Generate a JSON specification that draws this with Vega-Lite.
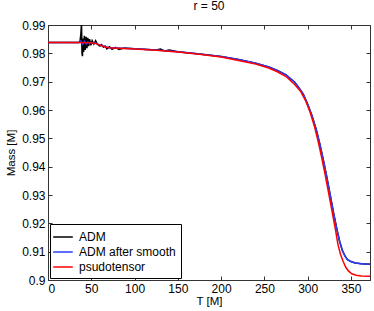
{
  "$schema": "https://vega.github.io/schema/vega-lite/v6.json",
  "width": 322,
  "height": 255,
  "autosize": {"type": "none"},
  "padding": {"left": 48, "top": 25, "right": 4, "bottom": 31},
  "background": "white",
  "config": {
    "font": "Liberation Sans",
    "view": {"stroke": "#333", "strokeWidth": 1},
    "axis": {"grid": false, "domainColor": "#333", "tickColor": "#333", "labelColor": "#000", "titleColor": "#000", "labelFontSize": 12, "titleFontSize": 11.5, "titleFontWeight": "normal", "labelFont": "Liberation Sans", "titleFont": "Liberation Sans"}
  },
  "title": {"text": "r = 50", "fontSize": 12, "fontWeight": "normal", "font": "Liberation Sans", "offset": 6, "color": "#000"},
  "data": {
    "values": [
      {"T": 0, "M": 0.9838, "s": "ADM"},
      {"T": 35, "M": 0.9838, "s": "ADM"},
      {"T": 37, "M": 0.9842, "s": "ADM"},
      {"T": 38, "M": 0.987, "s": "ADM"},
      {"T": 38.7, "M": 0.9905, "s": "ADM"},
      {"T": 39.3, "M": 0.98, "s": "ADM"},
      {"T": 39.8, "M": 0.979, "s": "ADM"},
      {"T": 40.5, "M": 0.9852, "s": "ADM"},
      {"T": 41.2, "M": 0.9805, "s": "ADM"},
      {"T": 42, "M": 0.9862, "s": "ADM"},
      {"T": 43, "M": 0.9812, "s": "ADM"},
      {"T": 44, "M": 0.9858, "s": "ADM"},
      {"T": 45, "M": 0.9818, "s": "ADM"},
      {"T": 46, "M": 0.9855, "s": "ADM"},
      {"T": 47, "M": 0.9825, "s": "ADM"},
      {"T": 48, "M": 0.985, "s": "ADM"},
      {"T": 49.5, "M": 0.9828, "s": "ADM"},
      {"T": 51, "M": 0.9845, "s": "ADM"},
      {"T": 53, "M": 0.9833, "s": "ADM"},
      {"T": 55, "M": 0.9845, "s": "ADM"},
      {"T": 57, "M": 0.9832, "s": "ADM"},
      {"T": 60, "M": 0.9826, "s": "ADM"},
      {"T": 62, "M": 0.9831, "s": "ADM"},
      {"T": 64, "M": 0.9822, "s": "ADM"},
      {"T": 66, "M": 0.9826, "s": "ADM"},
      {"T": 68, "M": 0.9816, "s": "ADM"},
      {"T": 71, "M": 0.9823, "s": "ADM"},
      {"T": 74, "M": 0.9814, "s": "ADM"},
      {"T": 78, "M": 0.9821, "s": "ADM"},
      {"T": 82, "M": 0.9814, "s": "ADM"},
      {"T": 88, "M": 0.9819, "s": "ADM"},
      {"T": 100, "M": 0.9816, "s": "ADM"},
      {"T": 125, "M": 0.9812, "s": "ADM"},
      {"T": 130, "M": 0.9815, "s": "ADM"},
      {"T": 135, "M": 0.9808, "s": "ADM"},
      {"T": 140, "M": 0.9812, "s": "ADM"},
      {"T": 150, "M": 0.9806, "s": "ADM"},
      {"T": 175, "M": 0.9798, "s": "ADM"},
      {"T": 200, "M": 0.9789, "s": "ADM"},
      {"T": 220, "M": 0.9778, "s": "ADM"},
      {"T": 240, "M": 0.9765, "s": "ADM"},
      {"T": 255, "M": 0.9752, "s": "ADM"},
      {"T": 265, "M": 0.974, "s": "ADM"},
      {"T": 275, "M": 0.9724, "s": "ADM"},
      {"T": 285, "M": 0.9698, "s": "ADM"},
      {"T": 290, "M": 0.9678, "s": "ADM"},
      {"T": 295, "M": 0.9655, "s": "ADM"},
      {"T": 300, "M": 0.962, "s": "ADM"},
      {"T": 305, "M": 0.958, "s": "ADM"},
      {"T": 310, "M": 0.953, "s": "ADM"},
      {"T": 314, "M": 0.948, "s": "ADM"},
      {"T": 318, "M": 0.9425, "s": "ADM"},
      {"T": 322, "M": 0.9365, "s": "ADM"},
      {"T": 326, "M": 0.93, "s": "ADM"},
      {"T": 330, "M": 0.9235, "s": "ADM"},
      {"T": 334, "M": 0.9175, "s": "ADM"},
      {"T": 337, "M": 0.9135, "s": "ADM"},
      {"T": 340, "M": 0.9105, "s": "ADM"},
      {"T": 343, "M": 0.9085, "s": "ADM"},
      {"T": 346, "M": 0.9072, "s": "ADM"},
      {"T": 350, "M": 0.9065, "s": "ADM"},
      {"T": 355, "M": 0.906, "s": "ADM"},
      {"T": 362, "M": 0.9057, "s": "ADM"},
      {"T": 372, "M": 0.9056, "s": "ADM"},

      {"T": 0, "M": 0.9838, "s": "ADM after smooth"},
      {"T": 36, "M": 0.9838, "s": "ADM after smooth"},
      {"T": 38, "M": 0.9843, "s": "ADM after smooth"},
      {"T": 40, "M": 0.9832, "s": "ADM after smooth"},
      {"T": 42, "M": 0.9843, "s": "ADM after smooth"},
      {"T": 44, "M": 0.9833, "s": "ADM after smooth"},
      {"T": 46, "M": 0.984, "s": "ADM after smooth"},
      {"T": 48, "M": 0.9835, "s": "ADM after smooth"},
      {"T": 50, "M": 0.9838, "s": "ADM after smooth"},
      {"T": 55, "M": 0.9836, "s": "ADM after smooth"},
      {"T": 60, "M": 0.983, "s": "ADM after smooth"},
      {"T": 65, "M": 0.9824, "s": "ADM after smooth"},
      {"T": 70, "M": 0.9821, "s": "ADM after smooth"},
      {"T": 80, "M": 0.9819, "s": "ADM after smooth"},
      {"T": 100, "M": 0.9816, "s": "ADM after smooth"},
      {"T": 125, "M": 0.9812, "s": "ADM after smooth"},
      {"T": 150, "M": 0.9806, "s": "ADM after smooth"},
      {"T": 175, "M": 0.9798, "s": "ADM after smooth"},
      {"T": 200, "M": 0.9789, "s": "ADM after smooth"},
      {"T": 220, "M": 0.9778, "s": "ADM after smooth"},
      {"T": 240, "M": 0.9765, "s": "ADM after smooth"},
      {"T": 255, "M": 0.9752, "s": "ADM after smooth"},
      {"T": 265, "M": 0.974, "s": "ADM after smooth"},
      {"T": 275, "M": 0.9724, "s": "ADM after smooth"},
      {"T": 285, "M": 0.9698, "s": "ADM after smooth"},
      {"T": 290, "M": 0.9678, "s": "ADM after smooth"},
      {"T": 295, "M": 0.9655, "s": "ADM after smooth"},
      {"T": 300, "M": 0.962, "s": "ADM after smooth"},
      {"T": 305, "M": 0.958, "s": "ADM after smooth"},
      {"T": 310, "M": 0.953, "s": "ADM after smooth"},
      {"T": 314, "M": 0.948, "s": "ADM after smooth"},
      {"T": 318, "M": 0.9425, "s": "ADM after smooth"},
      {"T": 322, "M": 0.9365, "s": "ADM after smooth"},
      {"T": 326, "M": 0.93, "s": "ADM after smooth"},
      {"T": 330, "M": 0.9235, "s": "ADM after smooth"},
      {"T": 334, "M": 0.9175, "s": "ADM after smooth"},
      {"T": 337, "M": 0.9135, "s": "ADM after smooth"},
      {"T": 340, "M": 0.9105, "s": "ADM after smooth"},
      {"T": 343, "M": 0.9085, "s": "ADM after smooth"},
      {"T": 346, "M": 0.9072, "s": "ADM after smooth"},
      {"T": 350, "M": 0.9065, "s": "ADM after smooth"},
      {"T": 355, "M": 0.906, "s": "ADM after smooth"},
      {"T": 362, "M": 0.9057, "s": "ADM after smooth"},
      {"T": 372, "M": 0.9056, "s": "ADM after smooth"},

      {"T": 0, "M": 0.9838, "s": "psudotensor"},
      {"T": 30, "M": 0.9838, "s": "psudotensor"},
      {"T": 50, "M": 0.9837, "s": "psudotensor"},
      {"T": 55, "M": 0.9835, "s": "psudotensor"},
      {"T": 60, "M": 0.9829, "s": "psudotensor"},
      {"T": 65, "M": 0.9823, "s": "psudotensor"},
      {"T": 70, "M": 0.982, "s": "psudotensor"},
      {"T": 80, "M": 0.9818, "s": "psudotensor"},
      {"T": 100, "M": 0.9815, "s": "psudotensor"},
      {"T": 125, "M": 0.9811, "s": "psudotensor"},
      {"T": 150, "M": 0.9805, "s": "psudotensor"},
      {"T": 175, "M": 0.9797, "s": "psudotensor"},
      {"T": 200, "M": 0.9787, "s": "psudotensor"},
      {"T": 220, "M": 0.9775, "s": "psudotensor"},
      {"T": 240, "M": 0.9762, "s": "psudotensor"},
      {"T": 255, "M": 0.9748, "s": "psudotensor"},
      {"T": 265, "M": 0.9735, "s": "psudotensor"},
      {"T": 275, "M": 0.9718, "s": "psudotensor"},
      {"T": 285, "M": 0.969, "s": "psudotensor"},
      {"T": 292, "M": 0.9665, "s": "psudotensor"},
      {"T": 298, "M": 0.963, "s": "psudotensor"},
      {"T": 303, "M": 0.959, "s": "psudotensor"},
      {"T": 308, "M": 0.954, "s": "psudotensor"},
      {"T": 312, "M": 0.949, "s": "psudotensor"},
      {"T": 316, "M": 0.9435, "s": "psudotensor"},
      {"T": 320, "M": 0.9375, "s": "psudotensor"},
      {"T": 324, "M": 0.931, "s": "psudotensor"},
      {"T": 328, "M": 0.9245, "s": "psudotensor"},
      {"T": 332, "M": 0.918, "s": "psudotensor"},
      {"T": 335, "M": 0.9125, "s": "psudotensor"},
      {"T": 338, "M": 0.909, "s": "psudotensor"},
      {"T": 341, "M": 0.9065, "s": "psudotensor"},
      {"T": 344, "M": 0.9045, "s": "psudotensor"},
      {"T": 347, "M": 0.9032, "s": "psudotensor"},
      {"T": 351, "M": 0.9022, "s": "psudotensor"},
      {"T": 356, "M": 0.9017, "s": "psudotensor"},
      {"T": 362, "M": 0.9014, "s": "psudotensor"},
      {"T": 372, "M": 0.9013, "s": "psudotensor"}
    ]
  },
  "layer": [
    {
      "mark": {"type": "line", "strokeWidth": 1.5, "clip": true},
      "encoding": {
        "x": {"field": "T", "type": "quantitative", "scale": {"domain": [0, 372], "nice": false}, "axis": {"title": "T [M]", "values": [0, 50, 100, 150, 200, 250, 300, 350], "tickSize": -4, "labelPadding": 7, "titlePadding": 1}},
        "y": {"field": "M", "type": "quantitative", "scale": {"domain": [0.9, 0.99], "nice": false, "zero": false}, "axis": {"title": "Mass [M]", "values": [0.9, 0.91, 0.92, 0.93, 0.94, 0.95, 0.96, 0.97, 0.98, 0.99], "format": ".2~f", "tickSize": -4, "labelPadding": 7, "titlePadding": 5}},
        "color": {"field": "s", "type": "nominal", "scale": {"domain": ["ADM", "ADM after smooth", "psudotensor"], "range": ["#000000", "#2a3cff", "#ff0000"]},
          "legend": {"title": null, "orient": "bottom-left", "offset": 2, "symbolType": "M-1.4,0H1.4", "symbolSize": 196, "symbolStrokeWidth": 1.5, "symbolFillColor": "transparent", "strokeColor": "#000", "fillColor": "#fff", "padding": 5, "labelOffset": 8, "labelFontSize": 12, "labelFont": "Liberation Sans", "labelColor": "#000", "rowPadding": 1, "cornerRadius": 0}}
      }
    },
    {
      "mark": {"type": "rule", "opacity": 0},
      "encoding": {
        "x": {"field": "T", "type": "quantitative", "axis": {"orient": "top", "title": null, "labels": false, "domain": false, "values": [0, 50, 100, 150, 200, 250, 300, 350], "tickSize": -4}},
        "y": {"field": "M", "type": "quantitative", "axis": {"orient": "right", "title": null, "labels": false, "domain": false, "values": [0.9, 0.91, 0.92, 0.93, 0.94, 0.95, 0.96, 0.97, 0.98, 0.99], "tickSize": -4}}
      }
    }
  ],
  "resolve": {"axis": {"x": "independent", "y": "independent"}}
}
